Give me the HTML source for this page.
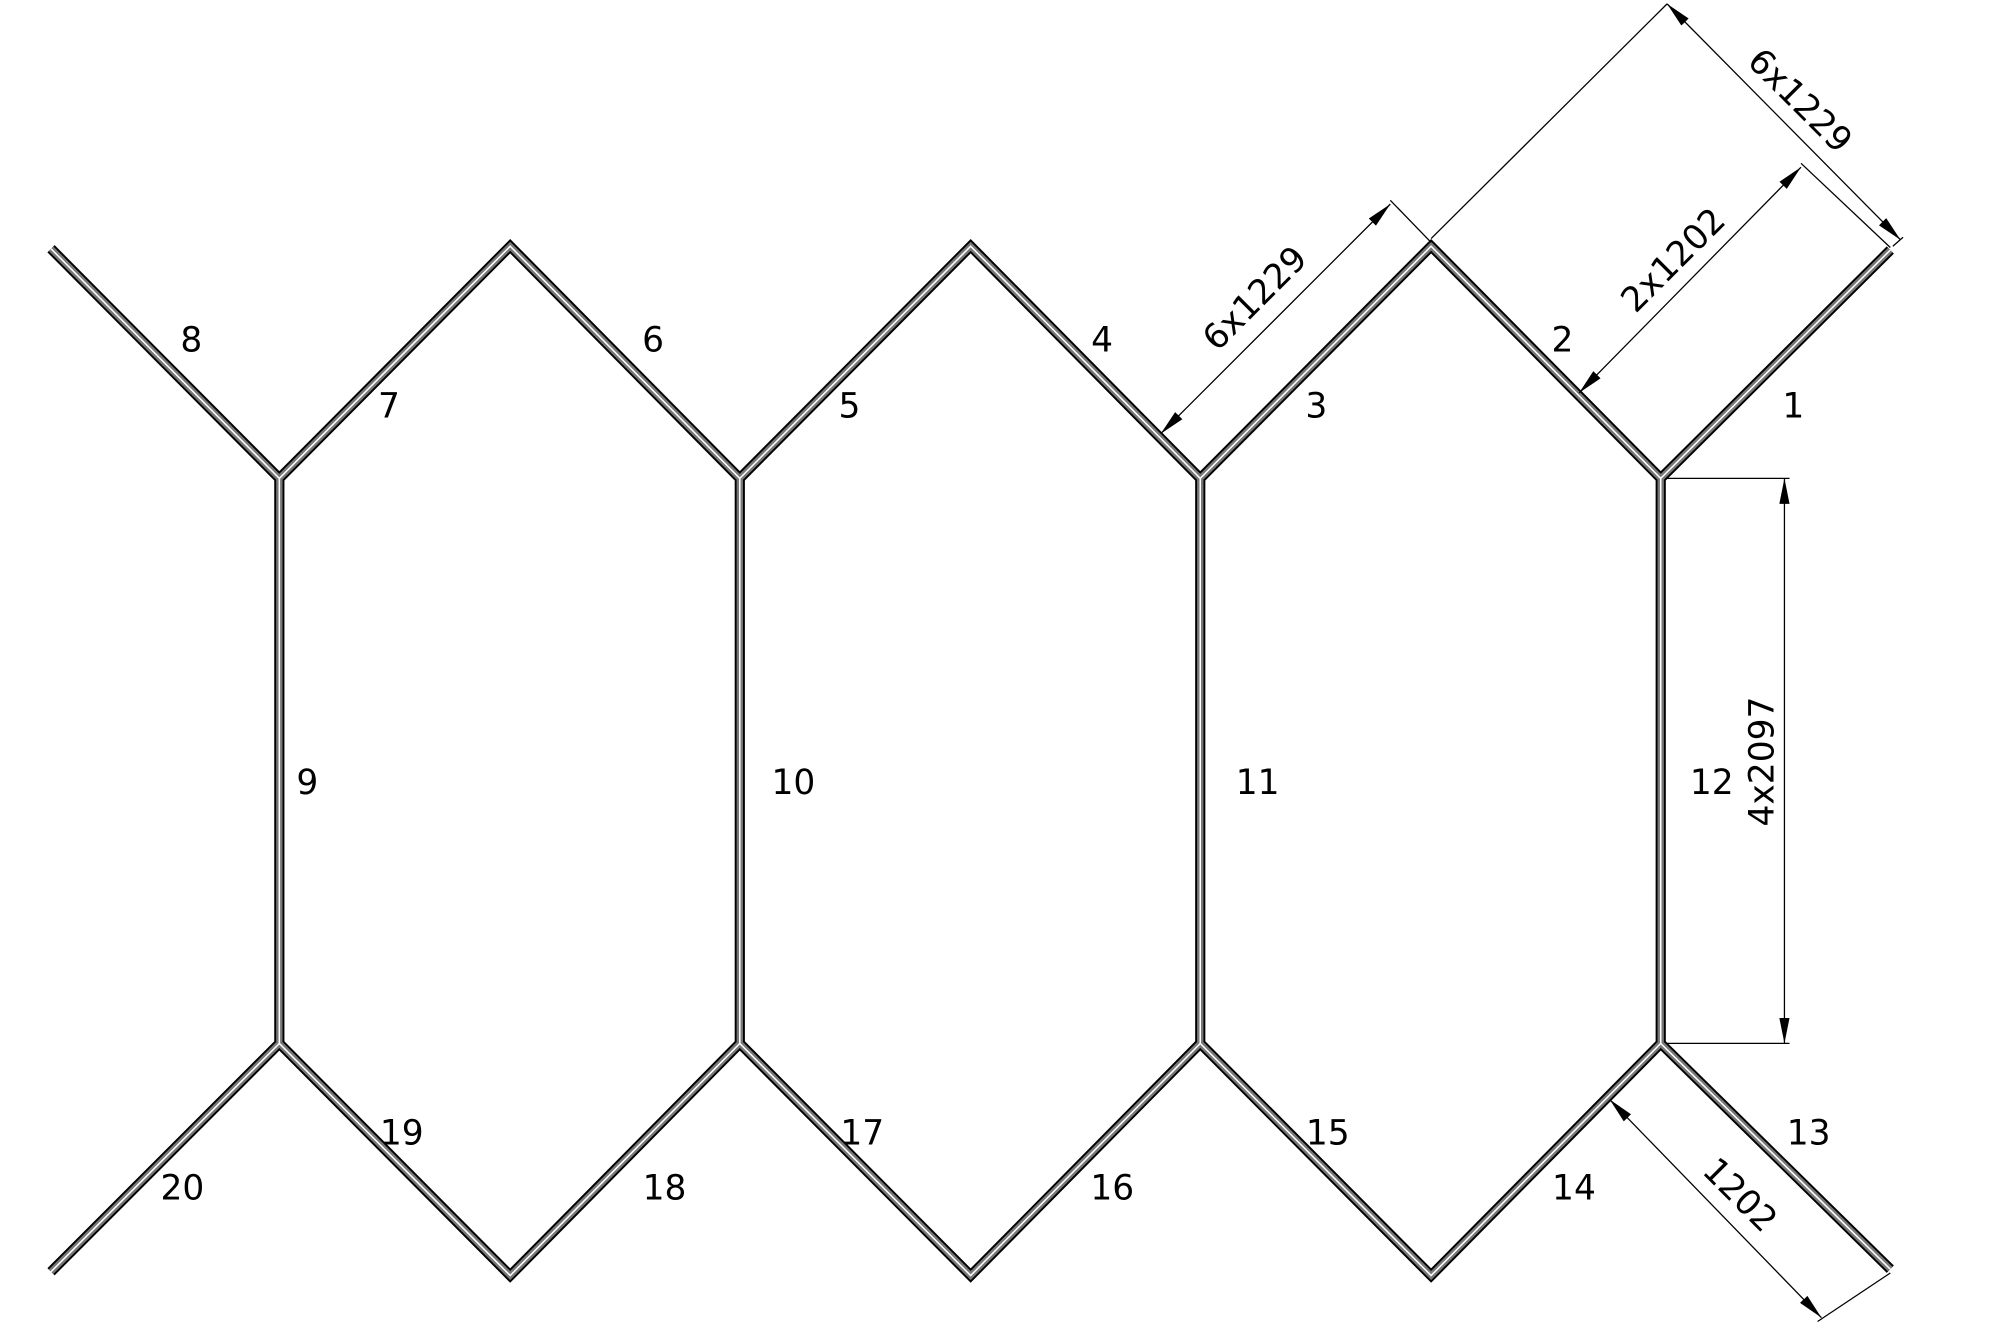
<!DOCTYPE html>
<html><head><meta charset="utf-8"><style>
html,body{margin:0;padding:0;background:#fff;}
svg{display:block;}
text{font-family:"DejaVu Sans","Liberation Sans",sans-serif;font-size:27px;fill:#000;}
</style></head><body>
<svg width="2000" height="1333" viewBox="0 0 1568 1045" xmlns="http://www.w3.org/2000/svg">
<defs>
<marker id="a" viewBox="0 0 20 8" refX="20" refY="4" markerWidth="20" markerHeight="8" markerUnits="userSpaceOnUse" orient="auto-start-reverse">
<path d="M0,0 L20,4 L0,8 z" fill="#000"/></marker>
<g id="frame" fill="none" stroke-linejoin="miter">
<path d="M40,195 L219,375 L400,193 L580,375 L761,193 L941,375 L1122,193 L1302,375 L1482,196
M219,375 L219,818 M580,375 L580,818 M941,375 L941,818 M1302,375 L1302,818
M40,997 L219,818 L400,1000 L580,818 L761,1000 L941,818 L1122,1000 L1302,818 L1482,995"/>
</g>
</defs>
<use href="#frame" stroke="#000" stroke-width="8"/>
<use href="#frame" stroke="#777" stroke-width="5"/>
<use href="#frame" stroke="#fff" stroke-width="1.2"/>

<g stroke="#000" stroke-width="1" fill="none">
<line x1="1122" y1="187" x2="1307" y2="3"/>
<line x1="1484" y1="193" x2="1492" y2="186"/>
<line x1="1307" y1="3" x2="1490" y2="188" marker-start="url(#a)" marker-end="url(#a)"/>
<line x1="1482" y1="194" x2="1412" y2="128"/>
<line x1="1238" y1="308" x2="1412" y2="131" marker-start="url(#a)" marker-end="url(#a)"/>
<line x1="1122" y1="190" x2="1090" y2="157"/>
<line x1="910" y1="340" x2="1090" y2="160" marker-start="url(#a)" marker-end="url(#a)"/>
<line x1="1306" y1="375" x2="1403" y2="375"/>
<line x1="1306" y1="818" x2="1403" y2="818"/>
<line x1="1399" y1="375" x2="1399" y2="818" marker-start="url(#a)" marker-end="url(#a)"/>
<line x1="1482" y1="998" x2="1425" y2="1036"/>
<line x1="1262" y1="862" x2="1428" y2="1033" marker-start="url(#a)" marker-end="url(#a)"/>
</g>

<text x="1410" y="80" text-anchor="middle" dominant-baseline="middle" transform="rotate(45 1410 80)">6x1229</text>
<text x="1313" y="205" text-anchor="middle" dominant-baseline="middle" transform="rotate(-45 1313 205)">2x1202</text>
<text x="985" y="235" text-anchor="middle" dominant-baseline="middle" transform="rotate(-45 985 235)">6x1229</text>
<text x="1383" y="597" text-anchor="middle" dominant-baseline="middle" transform="rotate(-90 1383 597)">4x2097</text>
<text x="1363" y="938" text-anchor="middle" dominant-baseline="middle" transform="rotate(45 1363 938)">1202</text>

<g text-anchor="middle" dominant-baseline="middle">
<text x="150" y="268">8</text><text x="305" y="320">7</text>
<text x="512" y="268">6</text><text x="666" y="320">5</text>
<text x="864" y="268">4</text><text x="1032" y="320">3</text>
<text x="1225" y="268">2</text><text x="1406" y="320">1</text>
<text x="241" y="615">9</text><text x="622" y="615">10</text>
<text x="986" y="615">11</text><text x="1342" y="615">12</text>
<text x="1418" y="890">13</text><text x="1234" y="933">14</text>
<text x="1041" y="890">15</text><text x="872" y="933">16</text>
<text x="676" y="890">17</text><text x="521" y="933">18</text>
<text x="315" y="890">19</text><text x="143" y="933">20</text>
</g>
</svg>
</body></html>
